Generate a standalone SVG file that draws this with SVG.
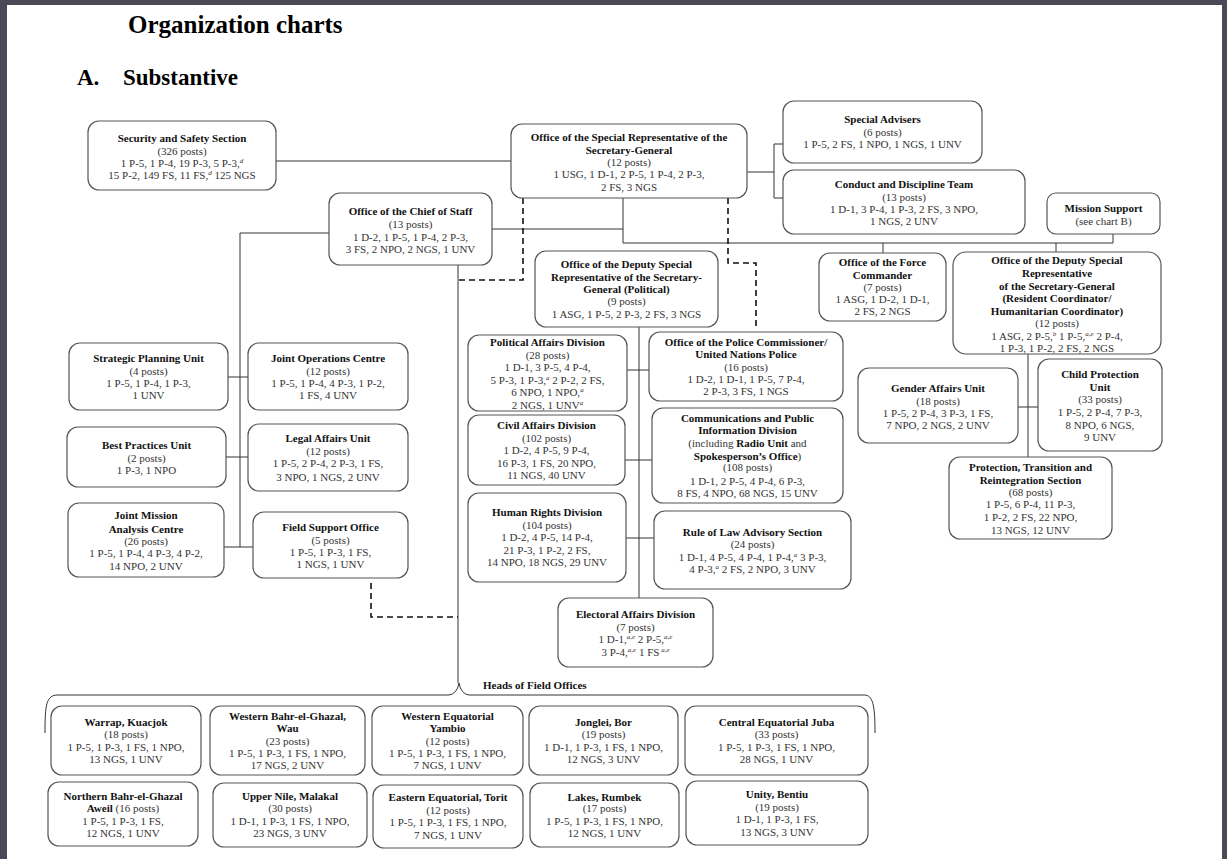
<svg xmlns="http://www.w3.org/2000/svg" width="1227" height="859" viewBox="0 0 1227 859">
<style>
.bg{fill:#ffffff}
.frame{fill:#4a4a56}
.box{fill:#ffffff;stroke:#555555;stroke-width:1.2}
.t{font-family:"Liberation Serif","Times New Roman",serif;font-size:11px;fill:#333333;text-anchor:middle}
.b{font-weight:bold;fill:#111111}
.s{font-size:7px;font-style:italic}
.h1{font-family:"Liberation Serif","Times New Roman",serif;font-size:25px;font-weight:bold;fill:#000000}
.h2{font-family:"Liberation Serif","Times New Roman",serif;font-size:23px;font-weight:bold;fill:#000000}
.hf{font-family:"Liberation Serif","Times New Roman",serif;font-size:11px;font-weight:bold;fill:#111111}
.ln{fill:none;stroke:#333333;stroke-width:1}
.dash{fill:none;stroke:#111111;stroke-width:1.6;stroke-dasharray:6 4}
</style>
<rect class="bg" x="0" y="0" width="1227" height="859"/>
<rect class="frame" x="0" y="0" width="7" height="859"/>
<rect class="frame" x="0" y="0" width="1227" height="5"/>
<rect class="frame" x="1222" y="0" width="5" height="859"/>
<text class="h1" x="128" y="33">Organization charts</text>
<text class="h2" x="77" y="85">A.</text>
<text class="h2" x="123" y="85">Substantive</text>

<g id="connectors">
<path class="ln" d="M276 161 H511"/>
<path class="ln" d="M747 172 H774 M783 144 H774 V198 H783"/>
<path class="ln" d="M623 198 V243 M492 229 H623 M623 243 H1113 V234 M883 243 V253 M1056 243 V252"/>
<path class="ln" d="M329 233 H240 V547 M228 377 H248 M226 457 H248 M224 547 H253"/>
<path class="ln" d="M458 265 V683"/>
<path class="ln" d="M639 327 V598 M627 370 H649 M625 460 H652 M626 538 H654"/>
<path class="ln" d="M1028 354 V457 M1018 407 H1038"/>
<path class="ln" d="M45 733 C45 705 46 695 58 695 H449 Q457 694 459 683 Q461 694 469 695 H864 C873 695 875 705 875 733"/>
<path class="dash" d="M523 198 V280 H458"/>
<path class="dash" d="M728 198 V263 H756 V330"/>
<path class="dash" d="M371 583 V617 H458"/>
<text class="hf" x="483" y="689">Heads of Field Offices</text>
</g>

<g id="security">
<rect class="box" x="88" y="121" width="188" height="69" rx="11"/>
<text class="t b" x="182" y="142">Security and Safety Section</text>
<text class="t" x="182" y="154.5">(326 posts)</text>
<text class="t" x="182" y="166.5">1 P-5, 1 P-4, 19 P-3, 5 P-3,<tspan class="s" dy="-4">d</tspan></text>
<text class="t" x="182" y="179">15 P-2, 149 FS, 11 FS,<tspan class="s" dy="-4">d</tspan><tspan dy="4"> 125 NGS</tspan></text>
</g>

<g id="srsg">
<rect class="box" x="511" y="124" width="236" height="74" rx="11"/>
<text class="t b" x="629" y="141">Office of the Special Representative of the</text>
<text class="t b" x="629" y="153.5">Secretary-General</text>
<text class="t" x="629" y="166">(12 posts)</text>
<text class="t" x="629" y="178">1 USG, 1 D-1, 2 P-5, 1 P-4, 2 P-3,</text>
<text class="t" x="629" y="190.5">2 FS, 3 NGS</text>
</g>

<g id="special-advisers">
<rect class="box" x="783" y="101" width="199" height="62" rx="11"/>
<text class="t b" x="882.5" y="123">Special Advisers</text>
<text class="t" x="882.5" y="135.5">(6 posts)</text>
<text class="t" x="882.5" y="148">1 P-5, 2 FS, 1 NPO, 1 NGS, 1 UNV</text>
</g>

<g id="conduct-discipline">
<rect class="box" x="783" y="170" width="242" height="64" rx="11"/>
<text class="t b" x="904" y="188">Conduct and Discipline Team</text>
<text class="t" x="904" y="200.5">(13 posts)</text>
<text class="t" x="904" y="212.5">1 D-1, 3 P-4, 1 P-3, 2 FS, 3 NPO,</text>
<text class="t" x="904" y="225">1 NGS, 2 UNV</text>
</g>

<g id="mission-support">
<rect class="box" x="1047" y="193" width="113" height="41" rx="9"/>
<text class="t b" x="1103.5" y="212">Mission Support</text>
<text class="t" x="1103.5" y="225">(see chart B)</text>
</g>

<g id="chief-of-staff">
<rect class="box" x="329" y="193" width="163" height="72" rx="11"/>
<text class="t b" x="410.5" y="215">Office of the Chief of Staff</text>
<text class="t" x="410.5" y="228">(13 posts)</text>
<text class="t" x="410.5" y="240.5">1 D-2, 1 P-5, 1 P-4, 2 P-3,</text>
<text class="t" x="410.5" y="253">3 FS, 2 NPO, 2 NGS, 1 UNV</text>
</g>

<g id="dsrsg-political">
<rect class="box" x="535" y="251" width="183" height="76" rx="11"/>
<text class="t b" x="626.5" y="268">Office of the Deputy Special</text>
<text class="t b" x="626.5" y="280.5">Representative of the Secretary-</text>
<text class="t b" x="626.5" y="293">General (Political)</text>
<text class="t" x="626.5" y="305">(9 posts)</text>
<text class="t" x="626.5" y="317.5">1 ASG, 1 P-5, 2 P-3, 2 FS, 3 NGS</text>
</g>

<g id="force-commander">
<rect class="box" x="819" y="253" width="127" height="68" rx="11"/>
<text class="t b" x="882.5" y="266">Office of the Force</text>
<text class="t b" x="882.5" y="278.5">Commander</text>
<text class="t" x="882.5" y="291">(7 posts)</text>
<text class="t" x="882.5" y="302.5">1 ASG, 1 D-2, 1 D-1,</text>
<text class="t" x="882.5" y="315">2 FS, 2 NGS</text>
</g>

<g id="dsrsg-rc-hc">
<rect class="box" x="953" y="252" width="208" height="102" rx="13"/>
<text class="t b" x="1057" y="264">Office of the Deputy Special</text>
<text class="t b" x="1057" y="277">Representative</text>
<text class="t b" x="1057" y="289.5">of the Secretary-General</text>
<text class="t b" x="1057" y="302">(Resident Coordinator/</text>
<text class="t b" x="1057" y="315">Humanitarian Coordinator)</text>
<text class="t" x="1057" y="327">(12 posts)</text>
<text class="t" x="1057" y="340">1 ASG, 2 P-5,<tspan class="s" dy="-4">b</tspan><tspan dy="4"> 1 P-5,</tspan><tspan class="s" dy="-4">a,e</tspan><tspan dy="4"> 2 P-4,</tspan></text>
<text class="t" x="1057" y="352">1 P-3, 1 P-2, 2 FS, 2 NGS</text>
</g>

<g id="strategic-planning">
<rect class="box" x="69" y="343" width="159" height="67" rx="11"/>
<text class="t b" x="148.5" y="362">Strategic Planning Unit</text>
<text class="t" x="148.5" y="375">(4 posts)</text>
<text class="t" x="148.5" y="386.5">1 P-5, 1 P-4, 1 P-3,</text>
<text class="t" x="148.5" y="399">1 UNV</text>
</g>

<g id="joint-operations">
<rect class="box" x="248" y="343" width="160" height="67" rx="11"/>
<text class="t b" x="328" y="362">Joint Operations Centre</text>
<text class="t" x="328" y="375">(12 posts)</text>
<text class="t" x="328" y="386.5">1 P-5, 1 P-4, 4 P-3, 1 P-2,</text>
<text class="t" x="328" y="399">1 FS, 4 UNV</text>
</g>

<g id="best-practices">
<rect class="box" x="67" y="427" width="159" height="60" rx="11"/>
<text class="t b" x="146.5" y="449">Best Practices Unit</text>
<text class="t" x="146.5" y="462">(2 posts)</text>
<text class="t" x="146.5" y="474">1 P-3, 1 NPO</text>
</g>

<g id="legal-affairs">
<rect class="box" x="248" y="424" width="160" height="67" rx="11"/>
<text class="t b" x="328" y="442">Legal Affairs Unit</text>
<text class="t" x="328" y="455">(12 posts)</text>
<text class="t" x="328" y="467">1 P-5, 2 P-4, 2 P-3, 1 FS,</text>
<text class="t" x="328" y="481">3 NPO, 1 NGS, 2 UNV</text>
</g>

<g id="jmac">
<rect class="box" x="68" y="503" width="156" height="74" rx="11"/>
<text class="t b" x="146" y="519">Joint Mission</text>
<text class="t b" x="146" y="533">Analysis Centre</text>
<text class="t" x="146" y="545">(26 posts)</text>
<text class="t" x="146" y="557">1 P-5, 1 P-4, 4 P-3, 4 P-2,</text>
<text class="t" x="146" y="570">14 NPO, 2 UNV</text>
</g>

<g id="field-support">
<rect class="box" x="253" y="512" width="155" height="66" rx="11"/>
<text class="t b" x="330.5" y="531">Field Support Office</text>
<text class="t" x="330.5" y="544">(5 posts)</text>
<text class="t" x="330.5" y="556">1 P-5, 1 P-3, 1 FS,</text>
<text class="t" x="330.5" y="568">1 NGS, 1 UNV</text>
</g>

<g id="political-affairs">
<rect class="box" x="468" y="335" width="159" height="76" rx="11"/>
<text class="t b" x="547.5" y="346">Political Affairs  Division</text>
<text class="t" x="547.5" y="359">(28 posts)</text>
<text class="t" x="547.5" y="371">1 D-1, 3 P-5, 4 P-4,</text>
<text class="t" x="547.5" y="384">5 P-3, 1 P-3,<tspan class="s" dy="-4">a</tspan><tspan dy="4"> 2 P-2, 2 FS,</tspan></text>
<text class="t" x="547.5" y="396">6 NPO, 1 NPO,<tspan class="s" dy="-4">a</tspan></text>
<text class="t" x="547.5" y="408.5">2 NGS, 1 UNV<tspan class="s" dy="-4">a</tspan></text>
</g>

<g id="police-commissioner">
<rect class="box" x="649" y="332" width="194" height="69" rx="11"/>
<text class="t b" x="746" y="346">Office of the Police Commissioner/</text>
<text class="t b" x="746" y="358">United Nations Police</text>
<text class="t" x="746" y="371">(16 posts)</text>
<text class="t" x="746" y="383">1 D-2, 1 D-1, 1 P-5, 7 P-4,</text>
<text class="t" x="746" y="395">2 P-3, 3 FS, 1 NGS</text>
</g>

<g id="civil-affairs">
<rect class="box" x="468" y="415" width="157" height="70" rx="11"/>
<text class="t b" x="546.5" y="429">Civil Affairs  Division</text>
<text class="t" x="546.5" y="442">(102 posts)</text>
<text class="t" x="546.5" y="454">1 D-2, 4 P-5, 9 P-4,</text>
<text class="t" x="546.5" y="467">16 P-3, 1 FS, 20 NPO,</text>
<text class="t" x="546.5" y="479">11 NGS, 40 UNV</text>
</g>

<g id="communications">
<rect class="box" x="652" y="408" width="191" height="95" rx="11"/>
<text class="t b" x="747.5" y="422">Communications and Public</text>
<text class="t b" x="747.5" y="434">Information Division</text>
<text class="t" x="747.5" y="447">(including <tspan class="b">Radio Unit</tspan> and</text>
<text class="t" x="747.5" y="460"><tspan class="b">Spokesperson’s Office</tspan>)</text>
<text class="t" x="747.5" y="471">(108 posts)</text>
<text class="t" x="747.5" y="485">1 D-1, 2 P-5, 4 P-4, 6 P-3,</text>
<text class="t" x="747.5" y="497">8 FS, 4 NPO, 68 NGS, 15 UNV</text>
</g>

<g id="human-rights">
<rect class="box" x="468" y="493" width="158" height="89" rx="11"/>
<text class="t b" x="547" y="516">Human Rights Division</text>
<text class="t" x="547" y="529">(104 posts)</text>
<text class="t" x="547" y="541">1 D-2, 4 P-5, 14 P-4,</text>
<text class="t" x="547" y="554">21 P-3, 1 P-2, 2 FS,</text>
<text class="t" x="547" y="566">14 NPO, 18 NGS, 29 UNV</text>
</g>

<g id="rule-of-law">
<rect class="box" x="654" y="511" width="197" height="78" rx="11"/>
<text class="t b" x="752.5" y="536">Rule of Law Advisory Section</text>
<text class="t" x="752.5" y="548">(24 posts)</text>
<text class="t" x="752.5" y="561">1 D-1, 4 P-5, 4 P-4, 1 P-4,<tspan class="s" dy="-4">a</tspan><tspan dy="4"> 3 P-3,</tspan></text>
<text class="t" x="752.5" y="573">4 P-3,<tspan class="s" dy="-4">a</tspan><tspan dy="4"> 2 FS, 2 NPO, 3 UNV</tspan></text>
</g>

<g id="electoral-affairs">
<rect class="box" x="558" y="598" width="155" height="69" rx="11"/>
<text class="t b" x="635.5" y="618">Electoral Affairs Division</text>
<text class="t" x="635.5" y="631">(7 posts)</text>
<text class="t" x="635.5" y="643">1 D-1,<tspan class="s" dy="-4">a,e</tspan><tspan dy="4"> 2 P-5,</tspan><tspan class="s" dy="-4">a,e</tspan></text>
<text class="t" x="635.5" y="656">3 P-4,<tspan class="s" dy="-4">a,e</tspan><tspan dy="4"> 1 FS</tspan><tspan class="s" dy="-4"> a,e</tspan></text>
</g>

<g id="gender-affairs">
<rect class="box" x="858" y="368" width="160" height="75" rx="11"/>
<text class="t b" x="938" y="392">Gender Affairs Unit</text>
<text class="t" x="938" y="405">(18 posts)</text>
<text class="t" x="938" y="417">1 P-5, 2 P-4, 3 P-3, 1 FS,</text>
<text class="t" x="938" y="429">7 NPO, 2 NGS, 2 UNV</text>
</g>

<g id="child-protection">
<rect class="box" x="1038" y="359" width="124" height="92" rx="11"/>
<text class="t b" x="1100" y="378">Child Protection</text>
<text class="t b" x="1100" y="391">Unit</text>
<text class="t" x="1100" y="403">(33 posts)</text>
<text class="t" x="1100" y="416">1 P-5, 2 P-4, 7 P-3,</text>
<text class="t" x="1100" y="429">8 NPO, 6 NGS,</text>
<text class="t" x="1100" y="441">9 UNV</text>
</g>

<g id="ptrs">
<rect class="box" x="949" y="457" width="163" height="82" rx="11"/>
<text class="t b" x="1030.5" y="471">Protection, Transition and</text>
<text class="t b" x="1030.5" y="484">Reintegration Section</text>
<text class="t" x="1030.5" y="496">(68 posts)</text>
<text class="t" x="1030.5" y="508">1 P-5, 6 P-4, 11 P-3,</text>
<text class="t" x="1030.5" y="521">1 P-2, 2 FS, 22 NPO,</text>
<text class="t" x="1030.5" y="534">13 NGS, 12 UNV</text>
</g>

<g id="fo-warrap">
<rect class="box" x="51" y="706" width="150" height="69" rx="11"/>
<text class="t b" x="126" y="726">Warrap,  Kuacjok</text>
<text class="t" x="126" y="738">(18 posts)</text>
<text class="t" x="126" y="751">1 P-5, 1 P-3, 1 FS, 1 NPO,</text>
<text class="t" x="126" y="763">13 NGS, 1 UNV</text>
</g>

<g id="fo-wbeg">
<rect class="box" x="210" y="706" width="155" height="69" rx="11"/>
<text class="t b" x="287.5" y="720">Western Bahr-el-Ghazal,</text>
<text class="t b" x="287.5" y="732">Wau</text>
<text class="t" x="287.5" y="745">(23 posts)</text>
<text class="t" x="287.5" y="757">1 P-5, 1 P-3, 1 FS, 1 NPO,</text>
<text class="t" x="287.5" y="769">17 NGS, 2 UNV</text>
</g>

<g id="fo-wes">
<rect class="box" x="372" y="706" width="151" height="69" rx="11"/>
<text class="t b" x="447.5" y="720">Western Equatorial</text>
<text class="t b" x="447.5" y="732">Yambio</text>
<text class="t" x="447.5" y="745">(12 posts)</text>
<text class="t" x="447.5" y="757">1 P-5, 1 P-3, 1 FS, 1 NPO,</text>
<text class="t" x="447.5" y="769">7 NGS, 1 UNV</text>
</g>

<g id="fo-jonglei">
<rect class="box" x="529" y="706" width="149" height="69" rx="11"/>
<text class="t b" x="603.5" y="726">Jonglei, Bor</text>
<text class="t" x="603.5" y="738">(19 posts)</text>
<text class="t" x="603.5" y="751">1 D-1, 1 P-3, 1 FS, 1 NPO,</text>
<text class="t" x="603.5" y="763">12 NGS, 3 UNV</text>
</g>

<g id="fo-ces">
<rect class="box" x="685" y="706" width="183" height="69" rx="11"/>
<text class="t b" x="776.5" y="726">Central Equatorial Juba</text>
<text class="t" x="776.5" y="738">(33 posts)</text>
<text class="t" x="776.5" y="751">1 P-5, 1 P-3, 1 FS, 1 NPO,</text>
<text class="t" x="776.5" y="763">28 NGS, 1 UNV</text>
</g>

<g id="fo-nbeg">
<rect class="box" x="48" y="782" width="150" height="64" rx="11"/>
<text class="t b" x="123" y="800">Northern Bahr-el-Ghazal</text>
<text class="t" x="123" y="812"><tspan class="b">Aweil</tspan> (16 posts)</text>
<text class="t" x="123" y="825">1 P-5, 1 P-3, 1 FS,</text>
<text class="t" x="123" y="837">12 NGS, 1 UNV</text>
</g>

<g id="fo-upper-nile">
<rect class="box" x="213" y="783" width="154" height="64" rx="11"/>
<text class="t b" x="290" y="800">Upper Nile, Malakal</text>
<text class="t" x="290" y="812">(30 posts)</text>
<text class="t" x="290" y="825">1 D-1, 1 P-3, 1 FS, 1 NPO,</text>
<text class="t" x="290" y="837">23 NGS, 3 UNV</text>
</g>

<g id="fo-ees">
<rect class="box" x="373" y="785" width="150" height="63" rx="11"/>
<text class="t b" x="448" y="801">Eastern Equatorial, Torit</text>
<text class="t" x="448" y="814">(12 posts)</text>
<text class="t" x="448" y="826">1 P-5, 1 P-3, 1 FS, 1 NPO,</text>
<text class="t" x="448" y="839">7 NGS, 1 UNV</text>
</g>

<g id="fo-lakes">
<rect class="box" x="530" y="783" width="149" height="64" rx="11"/>
<text class="t b" x="604.5" y="801">Lakes, Rumbek</text>
<text class="t" x="604.5" y="812">(17 posts)</text>
<text class="t" x="604.5" y="825">1 P-5, 1 P-3, 1 FS, 1 NPO,</text>
<text class="t" x="604.5" y="837">12 NGS, 1 UNV</text>
</g>

<g id="fo-unity">
<rect class="box" x="686" y="781" width="182" height="64" rx="11"/>
<text class="t b" x="777" y="798">Unity, Bentiu</text>
<text class="t" x="777" y="811">(19 posts)</text>
<text class="t" x="777" y="823">1 D-1, 1 P-3, 1 FS,</text>
<text class="t" x="777" y="836">13 NGS, 3 UNV</text>
</g>
</svg>
